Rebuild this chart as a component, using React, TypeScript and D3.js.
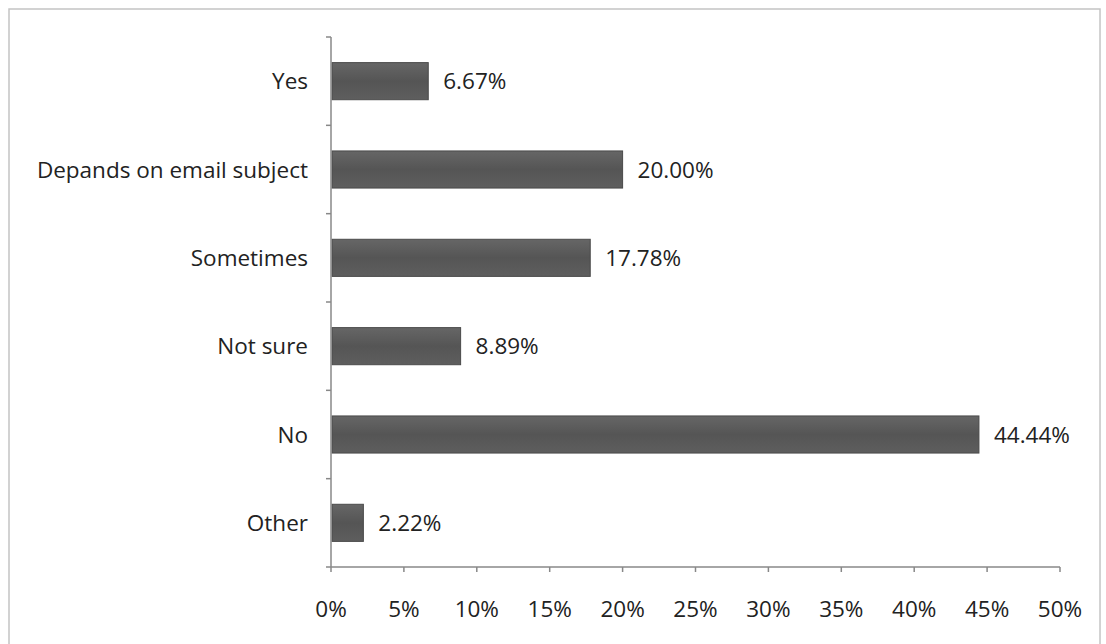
import React from "react";
import * as d3 from "d3";

const categories = ["Yes", "Depands on email subject", "Sometimes", "Not sure", "No", "Other"];
const values = [6.67, 20.0, 17.78, 8.89, 44.44, 2.22];
const ticks = [0, 5, 10, 15, 20, 25, 30, 35, 40, 45, 50];

const W = 1106, H = 644;
const left = 331, right = 1060, top = 37, bottom = 567;
const FONT = "'Open Sans', Lato, sans-serif";
const FS = 22.5;

export default function App() {
  const x = d3.scaleLinear().domain([0, 50]).range([left, right]);
  const y = d3.scaleBand<string>().domain(categories).range([top, bottom]).paddingInner(0.58).paddingOuter(0.29);
  const band = (bottom - top) / categories.length;
  return (
    <svg width={W} height={H} style={{ position: "absolute", left: 0, top: 0, background: "#fff" }}>
      <defs>
        <linearGradient id="bg" x1="0" y1="0" x2="0" y2="1">
          <stop offset="0" stopColor="#666" />
          <stop offset="0.5" stopColor="#555" />
          <stop offset="1" stopColor="#5e5e5e" />
        </linearGradient>
      </defs>
      <rect x={9} y={9} width={1091} height={H} fill="#fff" stroke="#c4c4c4" strokeWidth={1.5} />
      {categories.map((c, i) => (
        <g key={c}>
          <rect x={x(0) + 1} y={y(c)!} width={x(values[i]) - x(0) - 1} height={y.bandwidth()} fill="url(#bg)" stroke="#4a4a4a" strokeWidth={1} />
          <text x={x(values[i]) + 15} y={y(c)! + y.bandwidth() / 2} dy="0.36em" fontFamily={FONT} fontSize={FS} fill="#222">
            {values[i].toFixed(2) + "%"}
          </text>
          <text x={308} y={y(c)! + y.bandwidth() / 2} dy="0.36em" textAnchor="end" fontFamily={FONT} fontSize={FS} fill="#222">
            {c}
          </text>
        </g>
      ))}
      <line x1={left} x2={left} y1={top} y2={bottom} stroke="#888" strokeWidth={1.5} />
      {d3.range(categories.length + 1).map((i) => (
        <line key={i} x1={left - 5} x2={left} y1={top + i * band} y2={top + i * band} stroke="#888" strokeWidth={1.5} />
      ))}
      <line x1={left} x2={right} y1={bottom} y2={bottom} stroke="#888" strokeWidth={1.5} />
      {ticks.map((t) => (
        <g key={t}>
          <line x1={x(t)} x2={x(t)} y1={bottom} y2={bottom + 5} stroke="#888" strokeWidth={1.5} />
          <text x={x(t)} y={609} dy="0.36em" textAnchor="middle" fontFamily={FONT} fontSize={FS} fill="#222">
            {t + "%"}
          </text>
        </g>
      ))}
    </svg>
  );
}
